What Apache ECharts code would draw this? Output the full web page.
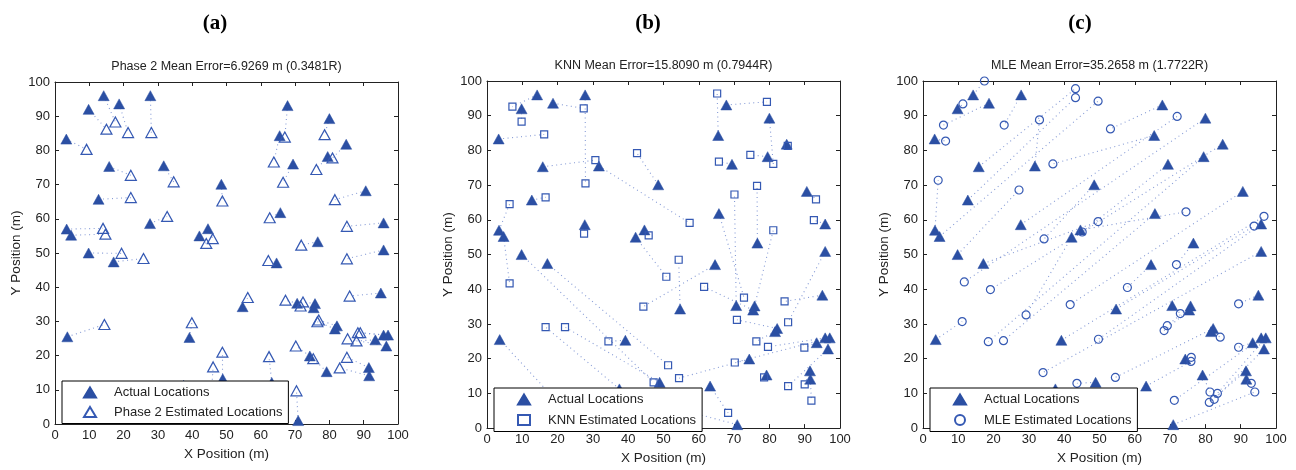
<!DOCTYPE html>
<html>
<head>
<meta charset="utf-8">
<script src="https://cdn.jsdelivr.net/npm/echarts@6/dist/echarts.min.js"></script>
<style>
html, body { margin: 0; padding: 0; background: #fff; }
#chart { width: 1296px; height: 470px; }
</style>
</head>
<body>
<div id="chart"></div>
<script>
// actual node positions (same in all three panels)
const actualX = [14.2, 27.8, 18.7, 9.8, 3.3, 15.8, 31.7, 12.7, 48.5, 27.7, 3.4, 4.7, 42.1, 44.6, 9.8, 17.1, 3.6, 39.2, 54.7, 48.9, 63.2, 70.9, 67.8, 80.0, 84.9, 65.5, 69.4, 79.5, 90.6, 65.7, 95.8, 76.6, 95.8, 64.6, 95.0, 70.6, 75.8, 75.4, 82.2, 81.6, 93.4, 95.8, 97.1, 96.6, 74.3, 79.2, 91.5, 91.6, 37.5, 45.6]
const actualY = [96.0, 96.0, 93.6, 92.0, 83.3, 75.3, 75.5, 65.7, 70.1, 58.6, 57.0, 55.2, 55.0, 57.1, 50.0, 47.4, 25.5, 25.3, 34.3, 13.2, 12.1, 1.0, 93.1, 89.3, 81.8, 84.3, 76.0, 78.2, 68.2, 61.8, 58.8, 53.3, 50.9, 47.1, 38.3, 35.3, 35.2, 34.0, 28.7, 27.8, 24.6, 26.0, 26.0, 22.8, 19.9, 15.3, 16.5, 14.1, 11.3, 9.0]

// (a) phase 2 estimates, same order as actual
const phase2X = [17.6, 28.1, 21.3, 15.0, 9.2, 22.1, 34.6, 22.1, 48.8, 32.7, 14.0, 14.7, 44.1, 46.0, 19.4, 25.8, 14.4, 39.9, 56.2, 48.8, 62.4, 70.4, 67.0, 78.6, 80.9, 63.8, 66.5, 76.2, 81.6, 62.6, 85.1, 71.8, 85.1, 62.2, 85.9, 67.2, 72.3, 71.6, 76.9, 76.5, 87.9, 89.0, 88.3, 85.3, 70.2, 75.3, 85.1, 83.0, 40.5, 46.1]
const phase2Y = [88.3, 85.2, 85.2, 86.2, 80.3, 72.7, 70.8, 66.2, 65.2, 60.7, 57.2, 55.5, 52.8, 54.2, 49.9, 48.4, 29.1, 29.6, 37.0, 21.0, 19.7, 9.7, 83.9, 84.6, 77.8, 76.6, 70.7, 74.4, 65.6, 60.3, 57.8, 52.3, 48.3, 47.8, 37.4, 36.2, 35.7, 34.5, 30.4, 29.9, 24.3, 26.7, 26.7, 24.9, 22.8, 19.1, 19.5, 16.4, 8.0, 16.7]

// (b) KNN estimates
const knnX = [7.2, 27.9, 27.4, 9.8, 16.2, 30.7, 57.4, 16.6, 42.5, 27.5, 6.4, 6.4, 50.8, 45.8, 47.2, 51.3, 20.0, 34.4, 54.3, 22.1, 68.3, 56.0, 79.3, 81.1, 85.2, 65.2, 65.7, 74.6, 93.2, 72.8, 92.6, 76.5, 85.3, 44.3, 84.3, 70.1, 81.1, 61.5, 70.8, 76.3, 89.9, 79.6, 70.2, 85.3, 54.4, 78.5, 90.0, 91.9, 16.6, 40.0]
const knnY = [92.6, 70.5, 92.1, 88.3, 84.6, 77.2, 59.1, 66.5, 79.2, 56.0, 64.5, 41.7, 43.6, 55.5, 13.2, 18.1, 7.5, 25.0, 48.5, 29.1, 4.4, 5.0, 94.0, 76.1, 81.3, 96.4, 76.8, 78.7, 65.9, 37.6, 59.9, 69.8, 30.5, 35.0, 36.5, 67.3, 57.0, 40.7, 31.2, 25.0, 23.2, 23.4, 18.9, 12.1, 14.4, 14.6, 12.6, 7.9, 29.1, 5.0]

// (c) MLE estimates
const mleX = [17.4, 23.0, 5.8, 11.3, 6.4, 43.2, 33.0, 43.2, 34.3, 72.0, 4.3, 49.6, 29.2, 74.5, 27.2, 49.6, 11.1, 96.6, 93.8, 43.6, 75.9, 94.0, 53.1, 11.7, 19.1, 36.8, 45.1, 18.5, 41.7, 22.8, 49.7, 71.8, 34.0, 57.9, 89.4, 72.9, 69.2, 68.3, 54.5, 84.2, 89.4, 71.2, 83.4, 82.5, 76.0, 81.3, 81.1, 93.0, 30.0, 40.0]
const mleY = [100.0, 87.3, 87.3, 93.4, 82.7, 97.8, 88.8, 95.2, 54.5, 89.8, 71.4, 94.2, 32.6, 62.3, 68.6, 59.5, 30.7, 61.0, 58.2, 12.9, 19.2, 10.4, 86.2, 42.1, 39.9, 76.1, 56.5, 24.9, 35.6, 25.2, 25.6, 47.1, 16.0, 40.5, 35.8, 33.0, 29.5, 28.1, 14.6, 26.2, 23.3, 8.0, 10.0, 8.3, 20.4, 10.4, 7.4, 12.9, 5.0, 4.0]

const blue = '#2b4fa3'
const lineBlue = '#7189cf'
const textColor = '#222'
const font = 'Liberation Sans, Arial, sans-serif'

const panels = [
    { letter: '(a)', letterX: 215, title: 'Phase 2 Mean Error=6.9269 m (0.3481R)', estName: 'Phase 2 Estimated Locations',
      estX: phase2X, estY: phase2Y, symbol: 'triangle', size: 10,
      grid: { left: 55, top: 82, width: 343, height: 342 },
      legend: { left: 62, top: 381, gap: 6.5, padL: 21 } },
    { letter: '(b)', letterX: 648, title: 'KNN Mean Error=15.8090 m (0.7944R)', estName: 'KNN Estimated Locations',
      estX: knnX, estY: knnY, symbol: 'rect', size: 7,
      grid: { left: 487, top: 81, width: 353, height: 352 },
      legend: { left: 494, top: 388, gap: 7.5, padL: 23 } },
    { letter: '(c)', letterX: 1080, title: 'MLE Mean Error=35.2658 m (1.7722R)', estName: 'MLE Estimated Locations',
      estX: mleX, estY: mleY, symbol: 'circle', size: 8,
      grid: { left: 923, top: 81, width: 353, height: 352 },
      legend: { left: 930, top: 388, gap: 7.5, padL: 23 } }
]

function makeAxis(gridIndex, dim, pos, main) {
    const ax = {
        type: 'value', gridIndex: gridIndex, position: pos,
        min: 0, max: 100, interval: 10,
        axisLine: { show: true, onZero: false, lineStyle: { color: textColor, width: 1 } },
        axisTick: { show: true, inside: true, length: 4, lineStyle: { color: textColor } },
        axisLabel: { show: main, fontSize: 13, color: textColor, fontFamily: font, margin: 5 },
        splitLine: { show: false }
    }
    if (main) {
        ax.name = dim === 'x' ? 'X Position (m)' : 'Y Position (m)'
        ax.nameLocation = 'middle'
        ax.nameGap = dim === 'x' ? 21 : 32
        ax.nameTextStyle = { fontSize: 13.5, color: textColor, fontFamily: font }
    }
    return ax
}

const option = {
    animation: false,
    backgroundColor: '#fff',
    title: [], grid: [], xAxis: [], yAxis: [], legend: [], series: []
}

panels.forEach((p, i) => {
    const g = p.grid
    option.grid.push(g)
    option.xAxis.push(makeAxis(i, 'x', 'bottom', true), makeAxis(i, 'x', 'top', false))
    option.yAxis.push(makeAxis(i, 'y', 'left', true), makeAxis(i, 'y', 'right', false))

    option.title.push({
        text: p.letter, left: p.letterX, top: 13, textAlign: 'center', padding: 0,
        textStyle: { fontFamily: 'Liberation Serif, Times New Roman, serif', fontWeight: 'bold', fontSize: 21, color: '#000' }
    })
    option.title.push({
        text: p.title, left: g.left + g.width / 2, top: g.top - 22, textAlign: 'center', padding: 0,
        textStyle: { fontFamily: font, fontWeight: 'normal', fontSize: 12.5, color: textColor }
    })

    const xi = i * 2, yi = i * 2
    const links = actualX.map((x, k) => ({ coords: [[x, actualY[k]], [p.estX[k], p.estY[k]]] }))
    option.series.push({
        type: 'lines', coordinateSystem: 'cartesian2d', xAxisIndex: xi, yAxisIndex: yi,
        data: links, silent: true, z: 1,
        lineStyle: { color: lineBlue, width: 1.1, type: [1, 3.5], opacity: 0.85 }
    })
    option.series.push({
        name: 'Actual Locations', type: 'scatter', xAxisIndex: xi, yAxisIndex: yi, z: 2,
        symbol: 'triangle', symbolSize: [11, 10],
        itemStyle: { color: blue, borderColor: blue, borderWidth: 0.5, opacity: 1 },
        data: actualX.map((x, k) => [x, actualY[k]])
    })
    option.series.push({
        name: p.estName, type: 'scatter', xAxisIndex: xi, yAxisIndex: yi, z: 3,
        symbol: p.symbol, symbolSize: p.symbol === 'triangle' ? [11, 10] : p.size,
        itemStyle: { color: 'rgba(255,255,255,0)', borderColor: '#3559b3', borderWidth: 1.2, opacity: 1 },
        data: p.estX.map((x, k) => [x, p.estY[k]])
    })

    option.legend.push({
        left: p.legend.left, top: p.legend.top, orient: 'vertical',
        data: ['Actual Locations', p.estName],
        selectedMode: false,
        itemWidth: 12, itemHeight: 10, itemGap: p.legend.gap,
        padding: [5, 6, 5, p.legend.padL],
        backgroundColor: '#fff', borderColor: '#000', borderWidth: 1, borderRadius: 0,
        textStyle: { fontSize: 13, color: textColor, fontFamily: font, padding: [0, 0, 0, 13] },
        z: 10
    })
})

const chart = echarts.init(document.getElementById('chart'))
chart.setOption(option)
</script>
</body>
</html>
